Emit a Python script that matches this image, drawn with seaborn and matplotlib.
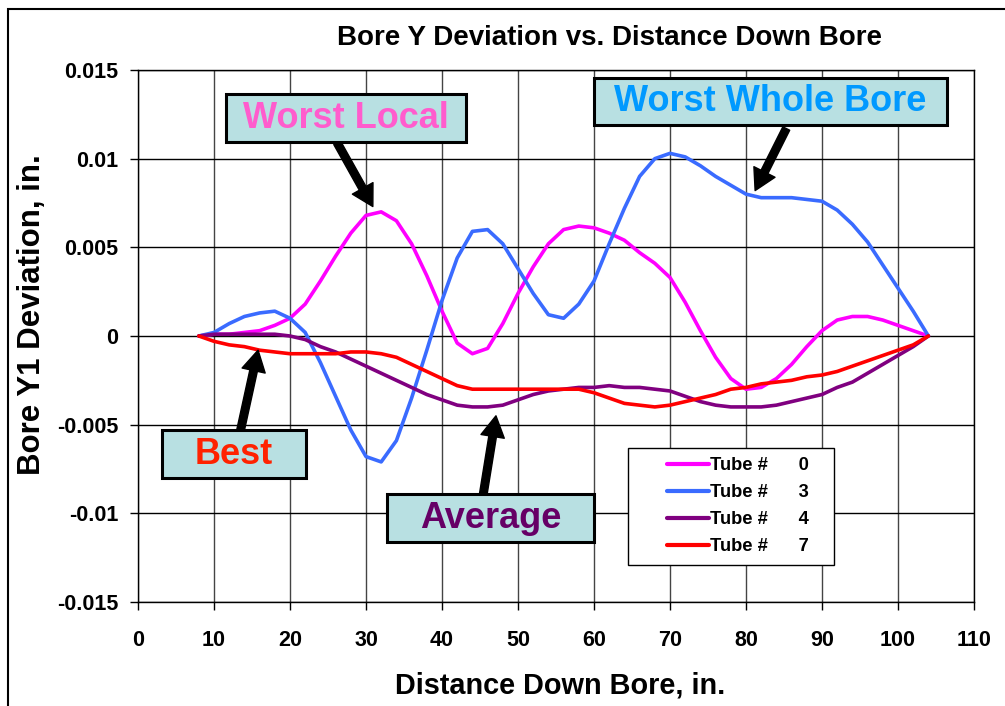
import matplotlib
matplotlib.use("Agg")
import matplotlib.pyplot as plt
from matplotlib.patches import Rectangle
from matplotlib.lines import Line2D
from matplotlib.legend_handler import HandlerLine2D
import seaborn as sns
import pandas as pd

distance = list(range(8, 106, 2))

tube_0 = [0, 0.0001, 0.0001, 0.0002, 0.0003, 0.0006, 0.0010, 0.0018, 0.0031, 0.0045,
          0.0058, 0.0068, 0.0070, 0.0065, 0.0052, 0.0034, 0.0014, -0.0004, -0.0010, -0.0007,
          0.0007, 0.0024, 0.0039, 0.0052, 0.0060, 0.0062, 0.0061, 0.0058, 0.0054, 0.0047,
          0.0041, 0.0033, 0.0019, 0.0003, -0.0012, -0.0024, -0.0030, -0.0029, -0.0024, -0.0016,
          -0.0006, 0.0003, 0.0009, 0.0011, 0.0011, 0.0009, 0.0006, 0.0003, 0]
tube_3 = [0, 0.0002, 0.0007, 0.0011, 0.0013, 0.0014, 0.0010, 0.0002, -0.0015, -0.0034,
          -0.0053, -0.0068, -0.0071, -0.0059, -0.0035, -0.0008, 0.0020, 0.0044, 0.0059, 0.0060,
          0.0052, 0.0038, 0.0024, 0.0012, 0.0010, 0.0018, 0.0031, 0.0052, 0.0072, 0.0090,
          0.0100, 0.0103, 0.0101, 0.0096, 0.0090, 0.0085, 0.0080, 0.0078, 0.0078, 0.0078,
          0.0077, 0.0076, 0.0071, 0.0063, 0.0053, 0.0040, 0.0027, 0.0014, 0]
tube_4 = [0, 0.0001, 0.0001, 0.0001, 0.0001, 0.0001, 0.0000, -0.0002, -0.0006, -0.0009,
          -0.0013, -0.0017, -0.0021, -0.0025, -0.0029, -0.0033, -0.0036, -0.0039, -0.0040, -0.0040,
          -0.0039, -0.0036, -0.0033, -0.0031, -0.0030, -0.0029, -0.0029, -0.0028, -0.0029, -0.0029,
          -0.0030, -0.0031, -0.0034, -0.0037, -0.0039, -0.0040, -0.0040, -0.0040, -0.0039, -0.0037,
          -0.0035, -0.0033, -0.0029, -0.0026, -0.0021, -0.0016, -0.0011, -0.0006, 0]
tube_7 = [0, -0.0003, -0.0005, -0.0006, -0.0008, -0.0009, -0.0010, -0.0010, -0.0010, -0.0010,
          -0.0009, -0.0009, -0.0010, -0.0012, -0.0016, -0.0020, -0.0024, -0.0028, -0.0030, -0.0030,
          -0.0030, -0.0030, -0.0030, -0.0030, -0.0030, -0.0030, -0.0032, -0.0035, -0.0038, -0.0039,
          -0.0040, -0.0039, -0.0037, -0.0035, -0.0033, -0.0030, -0.0029, -0.0027, -0.0026, -0.0025,
          -0.0023, -0.0022, -0.0020, -0.0017, -0.0014, -0.0011, -0.0008, -0.0005, 0]

series_labels = ["Tube #      0", "Tube #      3", "Tube #      4", "Tube #      7"]
series_colors = ["#ff00ff", "#3a6bff", "#800080", "#ff0000"]
x_ticks = list(range(0, 120, 10))
y_ticks = [-0.015, -0.01, -0.005, 0, 0.005, 0.01, 0.015]
y_tick_labels = ["-0.015", "-0.01", "-0.005", "0", "0.005", "0.01", "0.015"]

title = "Bore Y Deviation vs. Distance Down Bore"
x_label = "Distance Down Bore, in."
y_label = "Bore Y1 Deviation, in."

callouts = [
    # text, color, box px (x0, y0, x1, y1), arrow tail (data), arrow tip (data)
    ("Worst Local", "#ff5ccd", (226, 94, 466, 142), (26.2, 0.0109), (30.9, 0.0073)),
    ("Worst Whole Bore", "#0099ff", (594, 78, 947, 125), (85.3, 0.0117), (81.2, 0.0082)),
    ("Best", "#ff2200", (162, 430, 306, 478), (13.4, -0.0055), (15.8, -0.0008)),
    ("Average", "#660066", (387, 494, 594, 542), (45.4, -0.0090), (47.1, -0.0045)),
]

df = pd.concat([
    pd.DataFrame({"distance": distance, "deviation": vals, "tube": lab})
    for vals, lab in zip([tube_0, tube_3, tube_4, tube_7], series_labels)
])

sns.set_style("white")
plt.rcParams["font.family"] = ["Liberation Sans", "DejaVu Sans"]
plt.rcParams["font.weight"] = "bold"
for key in ["text.color", "axes.labelcolor", "xtick.color", "ytick.color"]:
    plt.rcParams[key] = "black"

W, H = 1005, 706
fig = plt.figure(figsize=(W / 100, H / 100), dpi=100)
ax = fig.add_axes([138 / W, 1 - 602 / H, (974 - 138) / W, (602 - 70) / H])

sns.lineplot(data=df, x="distance", y="deviation", hue="tube",
             palette=dict(zip(series_labels, series_colors)), linewidth=2.6,
             ax=ax, legend=True, zorder=3)

ax.set_xlim(0, 110)
ax.set_ylim(-0.015, 0.015)
ax.set_xticks(x_ticks)
ax.set_yticks(y_ticks)
ax.set_yticklabels(y_tick_labels)
ax.grid(True, axis="y", color="black", linewidth=1.0)
ax.grid(True, axis="x", color="#444444", linewidth=1.0)
ax.set_axisbelow(True)
for s in ax.spines.values():
    s.set_color("black")
    s.set_linewidth(1.0)
ax.tick_params(axis="both", direction="out", length=6, width=1, color="black",
               labelcolor="black", labelsize=15.5, left=True, bottom=True)
ax.tick_params(axis="y", pad=8)
ax.tick_params(axis="x", pad=14)
for lbl in ax.get_xticklabels() + ax.get_yticklabels():
    lbl.set_fontweight("bold")
ax.set_xlabel("")
ax.set_ylabel("")

handles, labels = ax.get_legend_handles_labels()
leg = ax.legend(handles, [l + "   " for l in labels],
                loc="upper left", bbox_to_anchor=((628 - 138) / (974 - 138), (602 - 448) / (602 - 70)),
                frameon=True, fancybox=False, edgecolor="black", framealpha=1,
                prop={"size": 13.2, "weight": "bold"}, handlelength=3.9, labelspacing=0.55,
                borderpad=0.5, handletextpad=0.1, borderaxespad=0,
                handler_map={Line2D: HandlerLine2D(xpad=1.6)})
leg.get_frame().set_linewidth(1.0)
leg.set_zorder(5)
for line in leg.get_lines():
    line.set_linewidth(3)

fig.text(609 / W, 1 - 38 / H, title, ha="center", va="center", fontsize=20, fontweight="bold")
fig.text(560 / W, 1 - 686 / H, x_label, ha="center", va="center", fontsize=20.8, fontweight="bold")
fig.text(32 / W, 1 - 315 / H, y_label, ha="center", va="center", rotation=90, fontsize=22.5,
         fontweight="bold")

for text, color, (x0, y0, x1, y1), tail, tip in callouts:
    ax.annotate("", xy=tip, xytext=tail, xycoords="data", textcoords="data",
                arrowprops=dict(facecolor="black", edgecolor="black", width=5.5,
                                headwidth=17, headlength=15, shrink=0), zorder=6)
    fig.patches.append(Rectangle((x0 / W, 1 - y1 / H), (x1 - x0) / W, (y1 - y0) / H,
                                 transform=fig.transFigure, facecolor="#b8e0e2",
                                 edgecolor="black", linewidth=2.2, zorder=7))
    fig.text((x0 + x1) / 2 / W, 1 - (y0 + y1) / 2 / H, text, ha="center", va="center",
             color=color, fontsize=26, fontweight="bold", zorder=8)

fig.patches.append(Rectangle((8 / W, -0.05), 1.1, 1 - 9 / H + 0.05, transform=fig.transFigure,
                             facecolor="none", edgecolor="black", linewidth=1.5, zorder=10))

fig.savefig("out.png", dpi=100)
